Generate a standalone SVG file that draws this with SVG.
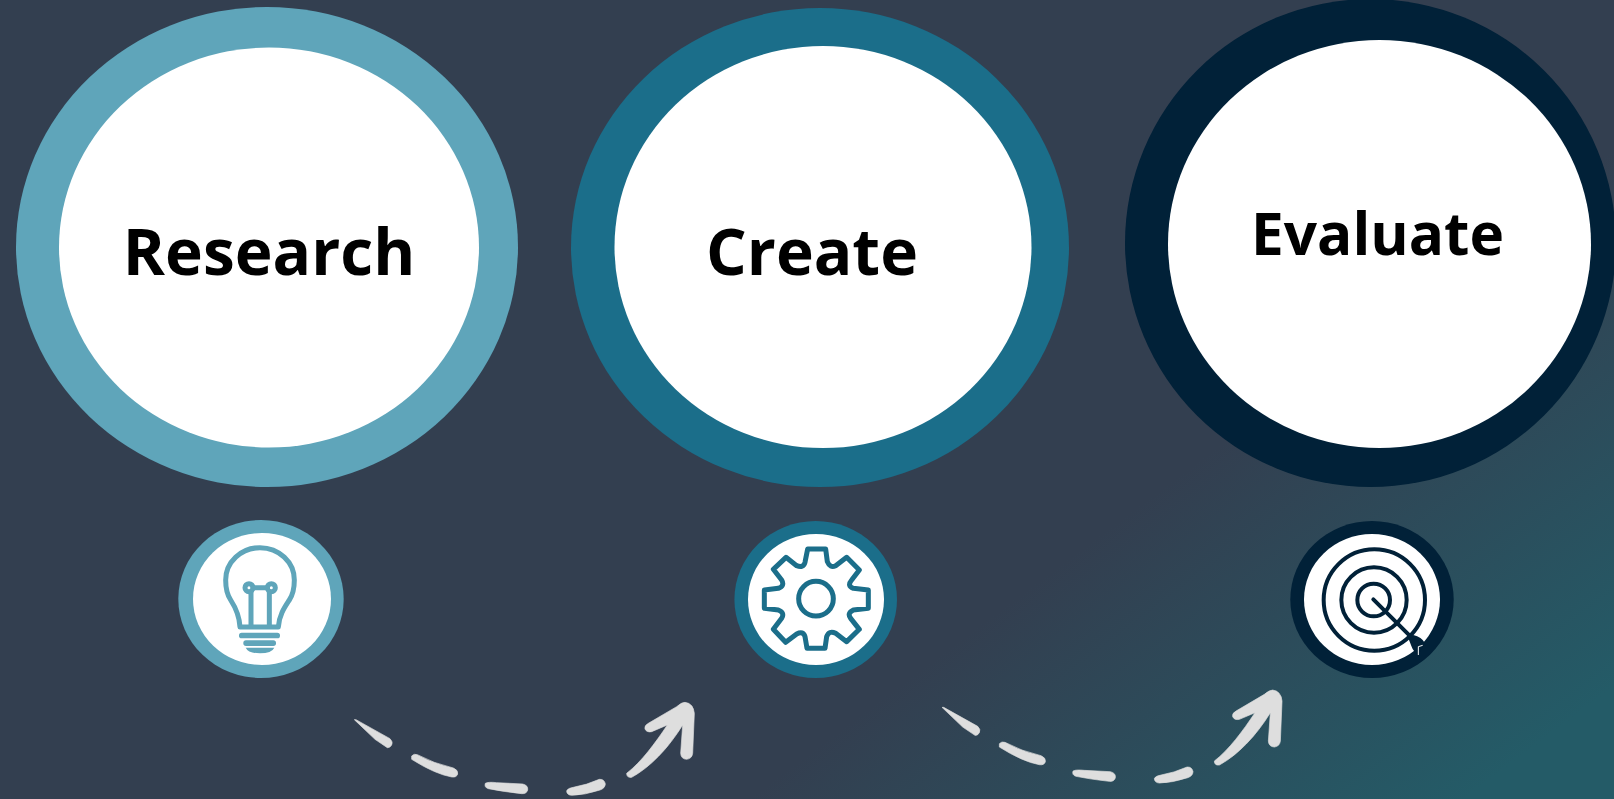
<svg xmlns="http://www.w3.org/2000/svg" xmlns:xlink="http://www.w3.org/1999/xlink" width="1614" height="799" viewBox="0 0 1614 799">
<style>
.w{fill:#fff}
.t{font-family:"Open Sans","Noto Sans","Liberation Sans",sans-serif;font-weight:700;font-size:64px;fill:#000;text-anchor:middle}
.ic{fill:none;stroke-width:15;stroke-linejoin:round;stroke-linecap:round}
.a{fill:#5fa5ba}.b{fill:#1b6e8a}.c{fill:#012138}
</style>
<defs>
<linearGradient id="bg" gradientUnits="userSpaceOnUse" x1="800" y1="760" x2="1058" y2="1104">
<stop offset="0" stop-color="#333f50"/><stop offset="1" stop-color="#245b67"/>
</linearGradient>
<g id="arrow" fill="#dedede" stroke="#dedede" stroke-width="2" stroke-linejoin="round">
<path d="M43 119L48 119L150 176Q160 186 155 195Q150 204 142 203L105 178Z"/>
<path d="M215 228Q222 220 232 224Q280 250 340 264Q355 270 353 282Q350 293 335 291Q285 282 215 238Z"/>
<path d="M436 310Q445 305 470 308L548 312Q565 316 563 330Q560 342 545 341Q490 335 445 326Q432 322 436 310Z"/>
<path d="M680 332Q685 324 700 322Q740 315 778 298Q793 297 796 312Q795 325 780 330Q735 345 695 346Q680 345 680 332Z"/>
<path d="M1028 135L1022 220Q1023 237 1040 238Q1056 236 1058 220L1063 100Q1060 70 1035 67Q1025 67 1010 80L925 130Q912 137 915 147Q920 158 935 155L982 135C945 190 905 245 860 280Q860 294 875 292C930 262 985 205 1028 135Z"/>
</g>
</defs>
<rect width="1614" height="799" fill="url(#bg)"/>
<g id="research">
<ellipse class="a" cx="267" cy="247" rx="251" ry="240"/>
<ellipse class="w" cx="269" cy="247.500" rx="210" ry="200"/>
<text class="t" x="269" y="275">Research</text>
</g>
<g id="create">
<ellipse class="b" cx="820" cy="247.500" rx="249" ry="239.500"/>
<ellipse class="w" cx="823" cy="247" rx="208.500" ry="201"/>
<text class="t" x="812" y="275">Create</text>
</g>
<g id="evaluate">
<ellipse class="c" cx="1370.500" cy="243" rx="245.500" ry="244"/>
<ellipse class="w" cx="1379.500" cy="244" rx="211.500" ry="204"/>
<text class="t" x="1377.500" y="255" style="font-size:58.500px">Evaluate</text>
</g>
<g id="icon-research">
<ellipse class="a" cx="261" cy="599" rx="82.700" ry="79"/>
<ellipse class="w" cx="262" cy="599" rx="69" ry="66"/>
<g transform="translate(160 500) scale(.33333)">
<g class="ic" stroke="#5fa5ba">
<path d="M240 381C238 345 225 320 212 300C200 282 197 265 197 240A103 97 0 1 1 403 240C403 265 400 282 388 300C375 320 357 345 355 381Z"/>
<circle cx="267" cy="263" r="12"/><circle cx="334" cy="263" r="12"/>
<path d="M279 263H322M273 276V378M328 276V378"/>
</g>
<g class="a">
<rect x="237" y="398" width="123" height="17" rx="8"/>
<rect x="250" y="421" width="98" height="17" rx="8"/>
<path d="M257 443H343Q335 460 300 460Q265 460 257 443Z"/>
</g>
</g>
</g>
<g id="icon-create">
<ellipse class="b" cx="815.700" cy="599.500" rx="81.300" ry="78.500"/>
<ellipse class="w" cx="816" cy="599.500" rx="68" ry="65.500"/>
<g class="ic" stroke="#1b6e8a" transform="translate(715 500) scale(.33333)">
<path d="M278 147H332L337 185Q345 205 362 197L395 172L433 210L410 240Q395 258 415 265L460 270V325L415 330Q395 340 407 355L433 388L395 425L362 400Q342 390 335 410L330 445H276L270 410Q265 392 245 402L212 427L175 388L200 355Q210 338 190 330L148 325V270L190 265Q210 258 200 240L175 208L213 172L245 197Q265 205 270 187Z"/>
<circle cx="303" cy="296" r="52"/>
</g>
</g>
<g id="icon-evaluate">
<ellipse class="c" cx="1372" cy="599.500" rx="81.700" ry="78.500"/>
<ellipse class="w" cx="1372" cy="599.500" rx="68" ry="65.500"/>
<g transform="translate(1270 500) scale(.33333)">
<g class="ic" stroke="#012138" style="stroke-width:12">
<circle cx="313" cy="300" r="152"/><circle cx="312" cy="300" r="98"/><circle cx="311" cy="300" r="49"/>
<path d="M310 298L425 413"/>
</g>
<path class="c" d="M415 415L430 405Q455 410 465 430L445 463Q430 455 425 440Z"/>
<path d="M445 440V465M445 440L458 436" stroke="#fff" stroke-width="3" fill="none"/>
</g>
</g>
<g id="connectors">
<use xlink:href="#arrow" href="#arrow" transform="translate(340 680) scale(.33333)"/>
<use xlink:href="#arrow" href="#arrow" transform="translate(927.700 667.700) scale(.33333)"/>
</g>
</svg>
